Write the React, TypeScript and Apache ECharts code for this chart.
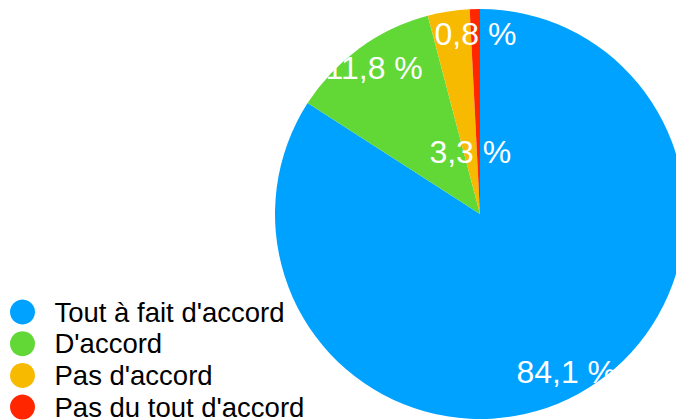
import React, { useEffect, useRef } from "react";
import * as echarts from "echarts";

const categories = ["Tout à fait d'accord", "D'accord", "Pas d'accord", "Pas du tout d'accord"];
const values = [84.1, 11.8, 3.3, 0.8];
const colors = ["#00A2FF", "#61D836", "#F8BA00", "#FF2600"];
// which labels sit on the outer ring vs. the inner ring
const outerLabel = [true, true, false, true];

const fmt = (v: number) => v.toFixed(1).replace(".", ",") + " %";

export default function App() {
  const ref = useRef<HTMLDivElement>(null);
  useEffect(() => {
    if (!ref.current) return;
    const chart = echarts.init(ref.current, null, { renderer: "svg" });
    const font = "'Liberation Sans', Arial, Helvetica, sans-serif";
    const center = [480, 214];
    const labelStyle = {
      position: "inside" as const,
      color: "#ffffff",
      fontSize: 32,
      fontFamily: font,
      formatter: (p: any) => fmt(p.value),
    };
    const hiddenItem = { color: "rgba(0,0,0,0)" };
    chart.setOption({
      animation: false,
      legend: {
        orient: "vertical",
        left: 5,
        top: 292,
        height: 200,
        icon: "circle",
        itemWidth: 26,
        itemHeight: 25,
        itemGap: 1.7,
        selectedMode: false,
        textStyle: { fontSize: 27.5, fontFamily: font, color: "#000", padding: [0, 0, 0, 14], lineHeight: 30 },
        data: categories.map((c, i) => ({ name: c, itemStyle: { color: colors[i] } })),
      },
      series: [
        {
          type: "pie",
          center,
          radius: 205,
          startAngle: 90,
          clockwise: true,
          avoidLabelOverlap: false,
          silent: true,
          label: { show: false },
          labelLine: { show: false },
          emphasis: { disabled: true },
          data: categories.map((c, i) => ({ name: c, value: values[i], itemStyle: { color: colors[i] } })),
        },
        {
          type: "pie",
          center,
          radius: [150, 204],
          startAngle: 90,
          clockwise: true,
          avoidLabelOverlap: false,
          silent: true,
          label: labelStyle,
          labelLine: { show: false },
          emphasis: { disabled: true },
          data: categories.map((c, i) => ({
            name: c,
            value: values[i],
            itemStyle: hiddenItem,
            label: { show: outerLabel[i] },
          })),
        },
        {
          type: "pie",
          center,
          radius: [0, 120],
          startAngle: 90,
          clockwise: true,
          avoidLabelOverlap: false,
          silent: true,
          label: labelStyle,
          labelLine: { show: false },
          emphasis: { disabled: true },
          data: categories.map((c, i) => ({
            name: c,
            value: values[i],
            itemStyle: hiddenItem,
            label: { show: !outerLabel[i] },
          })),
        },
      ],
    });
    return () => chart.dispose();
  }, []);
  return (
    <div
      ref={ref}
      style={{ position: "fixed", left: 0, top: 0, width: 676, height: 420, background: "#fff" }}
    />
  );
}
